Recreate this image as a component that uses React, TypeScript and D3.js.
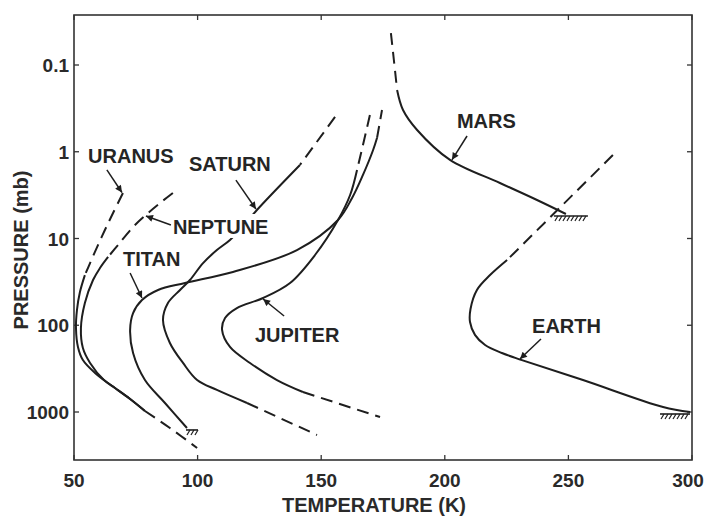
import React from "react";
import * as d3 from "d3";

type Pt = [number, number]; // [temperature K, pressure mb]

// ---- data (T in K, P in mb) ----
const uranusUpper: Pt[] = [[69.8, 2.99], [65.8, 5.08], [62.5, 7.98], [59.7, 11.9], [56.5, 19.2], [54.4, 26.4]];
const uranusLower: Pt[] = [[54.4, 26.4], [52.4, 41.4], [51.2, 66.7], [50.8, 107.6], [51.6, 178], [53.6, 252], [58.5, 355], [62.1, 428], [66.6, 529], [72.7, 708], [78.7, 973]];
const neptuneUpper: Pt[] = [[90.0, 2.99], [84.8, 3.9], [79.5, 5.22], [73.9, 7.37], [67.8, 11.9], [63.8, 16.3]];
const neptuneLower: Pt[] = [[63.8, 16.3], [60.5, 21.9], [57.7, 30.1], [54.4, 55.4], [52.8, 107.6], [53.6, 183], [56.5, 272], [62.1, 428], [66.6, 529], [72.7, 708], [78.7, 973]];
const iceGiantsDeep: Pt[] = [[78.7, 973], [88.8, 1528], [99.8, 2600]];

const titanLower: Pt[] = [[95.7, 1528], [86.8, 787], [78.7, 428], [73.9, 209], [72.7, 113], [73.9, 72.3], [77.5, 51.2], [84.0, 39.2], [94.9, 32.6], [114.3, 24.3], [140.2, 13.6], [156.8, 6.12], [162.5, 3.41], [166.9, 1.85], [171.0, 0.955], [172.6, 0.69]];
const titanUpper: Pt[] = [[172.6, 0.69], [174.6, 0.33]];

const jupiterUpper: Pt[] = [[169.7, 0.377], [166.9, 0.835], [164.5, 1.62]];
const jupiterMid: Pt[] = [[164.5, 1.62], [161.7, 3.15], [156.8, 6.12], [147.5, 15.5], [137.4, 32.6], [126.5, 48.5], [115.9, 63.3], [111.1, 82.5], [109.9, 113], [113.1, 178], [121.2, 272], [132.1, 428], [142.6, 588]];
const jupiterDeep: Pt[] = [[142.6, 588], [173.8, 1143]];

const saturnUpper: Pt[] = [[155.6, 0.397], [141.4, 1.42]];
const saturnMid: Pt[] = [[141.4, 1.42], [124.0, 4.69], [119.2, 6.8], [113.1, 10.4], [107.8, 13.6], [102.2, 19.2], [96.9, 30.1], [92.9, 39.2], [88.0, 55.4], [86.0, 87], [88.8, 160], [94.1, 272], [99.8, 428], [107.8, 557], [120.0, 787]];
const saturnDeep: Pt[] = [[120.0, 787], [148.3, 1841]];

const marsUpper: Pt[] = [[178.2, 0.0428], [179.4, 0.0876], [180.7, 0.194]];
const marsLower: Pt[] = [[180.7, 0.194], [183.1, 0.33], [188.8, 0.561], [202.1, 1.24], [222.3, 2.29], [237.3, 3.6], [249.0, 5.22]];

const earthUpper: Pt[] = [[268.0, 1.09], [225.2, 17.7]];
const earthLower: Pt[] = [[225.2, 17.7], [218.3, 26.4], [213.0, 39.2], [210.4, 65], [210.2, 91.8], [212.2, 129], [216.3, 169], [223.1, 209], [231.2, 252], [255.9, 428], [288.3, 876], [299.2, 1000]];

const solidSegments: Pt[][] = [uranusLower, neptuneLower, titanLower, jupiterMid, saturnMid, marsLower, earthLower];
const dashedSegments: Pt[][] = [uranusUpper, neptuneUpper, iceGiantsDeep, titanUpper, jupiterUpper, jupiterDeep, saturnUpper, saturnDeep, marsUpper, earthUpper];

// surfaces (T, P) with hatch extent in px relative to the surface point
const surfaceNames = ["TITAN", "MARS", "EARTH"];
const surfacePoints: Pt[] = [[95.7, 1528], [249.0, 5.22], [299.2, 1000]];
const surfaceExtent: [number, number][] = [[-1, 11], [-12, 22], [-30, 0]];

// labels: text, anchor (T,P) of text start/baseline, arrow from (T,P) to (T,P)
const labelNames = ["URANUS", "SATURN", "NEPTUNE", "TITAN", "JUPITER", "MARS", "EARTH"];
const labelAt: Pt[] = [[55.7, 1.35], [96.5, 1.67], [90.0, 8.87], [69.8, 20.7], [123.2, 156], [204.9, 0.532], [235.3, 123]];
const arrowFrom: Pt[] = [[63.3, 1.62], [115.5, 2.12], [89.2, 6.99], [72.7, 25], [135.0, 78.2], [209.0, 0.658], [238.9, 144]];
const arrowTo: Pt[] = [[69.4, 2.95], [123.6, 4.57], [79.1, 5.5], [77.5, 48.5], [126.5, 49.8], [202.9, 1.24], [230.4, 245]];

const xTicks = [50, 100, 150, 200, 250, 300];
const yTicks = [0.1, 1, 10, 100, 1000];
const yTickLabels = ["0.1", "1", "10", "100", "1000"];

const W = 706;
const H = 518;
const FONT = "'Liberation Sans', Arial, Helvetica, sans-serif";
const INK = "#1e1e1e";

export default function App() {
  const x = d3.scaleLinear().domain([50, 300]).range([74, 692]);
  const y = d3.scaleLog().domain([Math.pow(10, -1.5764), Math.pow(10, 3.5533)]).range([15, 460]);
  const [x0, x1] = x.range();
  const [y0, y1] = y.range();

  const line = d3
    .line<Pt>()
    .x((d) => x(d[0]))
    .y((d) => y(d[1]))
    .curve(d3.curveCatmullRom.alpha(0.5));

  const tickLen = 5;

  return (
    <svg
      width={W}
      height={H}
      viewBox={`0 0 ${W} ${H}`}
      style={{ position: "absolute", left: 0, top: 0, background: "#fff" }}
      fontFamily={FONT}
    >
      <defs>
        <marker id="ah" viewBox="0 0 10 10" refX="10" refY="5" markerWidth="9" markerHeight="7" markerUnits="userSpaceOnUse" orient="auto">
          <path d="M0,0 L10,5 L0,10 z" fill={INK} />
        </marker>
      </defs>
      <rect x={0} y={0} width={W} height={H} fill="#fff" />

      {/* frame */}
      <rect x={x0} y={y1 < y0 ? y1 : y0} width={x1 - x0} height={Math.abs(y1 - y0)} fill="none" stroke="#333" strokeWidth={1.6} />

      {/* ticks (inward, all four sides) */}
      {xTicks.map((t) => (
        <g key={"xt" + t}>
          <line x1={x(t)} x2={x(t)} y1={y1} y2={y1 - tickLen} stroke="#333" strokeWidth={1.3} />
          <line x1={x(t)} x2={x(t)} y1={y0} y2={y0 + tickLen} stroke="#333" strokeWidth={1.3} />
          <text
            x={x(t) + (t === 300 ? -4 : 0)}
            y={y1 + 27}
            textAnchor="middle"
            fontSize={19}
            fontWeight="bold"
            fill="#2a2a2a"
          >
            {t}
          </text>
        </g>
      ))}
      {yTicks.map((t, i) => (
        <g key={"yt" + t}>
          <line x1={x0} x2={x0 + tickLen} y1={y(t)} y2={y(t)} stroke="#333" strokeWidth={1.3} />
          <line x1={x1} x2={x1 - tickLen} y1={y(t)} y2={y(t)} stroke="#333" strokeWidth={1.3} />
          <text x={x0 - 5} y={y(t) + 7} textAnchor="end" fontSize={19} fontWeight="bold" fill="#2a2a2a">
            {yTickLabels[i]}
          </text>
        </g>
      ))}

      {/* axis titles */}
      <text x={374} y={512} textAnchor="middle" fontSize={20} fontWeight="bold" fill="#2a2a2a">
        TEMPERATURE (K)
      </text>
      <text transform="translate(28,250) rotate(-90)" textAnchor="middle" fontSize={20} fontWeight="bold" fill="#2a2a2a">
        PRESSURE (mb)
      </text>

      {/* profiles */}
      {solidSegments.map((seg, i) => (
        <path key={"s" + i} d={line(seg) || ""} fill="none" stroke={INK} strokeWidth={2} strokeLinejoin="round" />
      ))}
      {dashedSegments.map((seg, i) => (
        <path key={"d" + i} d={line(seg) || ""} fill="none" stroke={INK} strokeWidth={2} strokeDasharray="12,7" />
      ))}

      {/* surface hatches */}
      {surfacePoints.map((p, i) => {
        const sx = x(p[0]);
        const sy = y(p[1]) + 2;
        const [a, b] = surfaceExtent[i];
        const hs: number[] = d3.range(sx + a + 4, sx + b + 1, 4);
        return (
          <g key={"h" + surfaceNames[i]}>
            <line x1={sx + a} x2={sx + b} y1={sy} y2={sy} stroke={INK} strokeWidth={1.6} />
            {hs.map((hx) => (
              <line key={hx} x1={hx} y1={sy} x2={hx - 3} y2={sy + 5} stroke={INK} strokeWidth={1.2} />
            ))}
          </g>
        );
      })}

      {/* labels */}
      {labelNames.map((name, i) => {
        const lx = x(labelAt[i][0]);
        const ly = y(labelAt[i][1]);
        const w = name.length * 0.69 * 20;
        return (
          <g key={"l" + name}>
            <rect x={lx - 2} y={ly - 20} width={w + 4} height={24} fill="#fff" />
            <text x={lx} y={ly} fontSize={20} fontWeight="bold" fill="#252525">
              {name}
            </text>
          </g>
        );
      })}
      {labelNames.map((name, i) => (
        <line
          key={"a" + name}
          x1={x(arrowFrom[i][0])}
          y1={y(arrowFrom[i][1])}
          x2={x(arrowTo[i][0])}
          y2={y(arrowTo[i][1])}
          stroke={INK}
          strokeWidth={1.5}
          markerEnd="url(#ah)"
        />
      ))}
    </svg>
  );
}
